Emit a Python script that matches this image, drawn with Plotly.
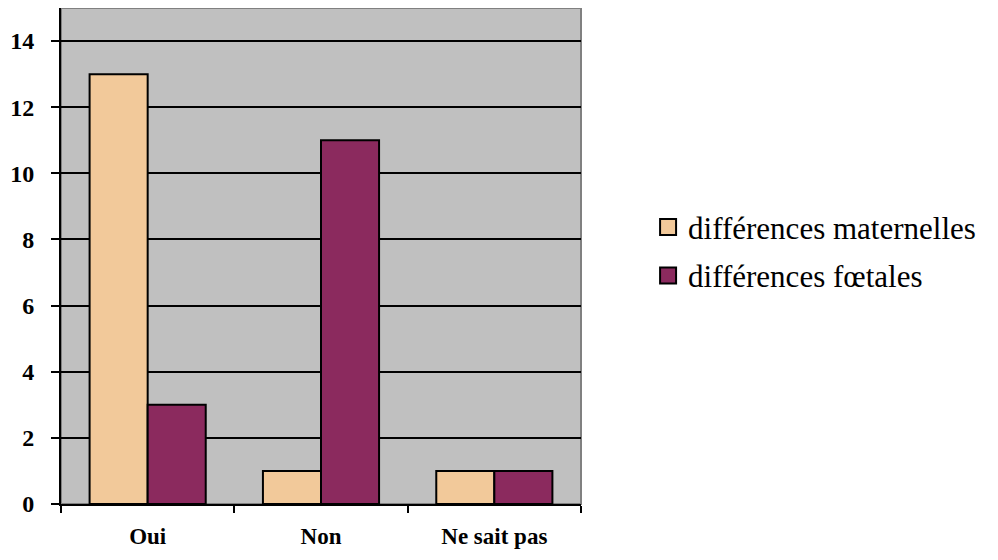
import plotly.graph_objects as go

categories = ["Oui", "Non", "Ne sait pas"]
maternelles = [13, 1, 1]
foetales = [3, 11, 1]
series_names = ["différences maternelles", "différences fœtales"]
colors = ["#F2C99A", "#8B2A5E"]
y_ticks = [0, 2, 4, 6, 8, 10, 12, 14]

SERIF = "Liberation Serif"

fig = go.Figure()
for vals, name, col in zip([maternelles, foetales], series_names, colors):
    fig.add_trace(go.Bar(x=categories, y=vals, name=name, showlegend=False,
                         marker=dict(color=col, line=dict(color="black", width=2))))
# legend entries with larger square swatches
for name, col in zip(series_names, colors):
    fig.add_trace(go.Scatter(x=[None], y=[None], mode="markers", name=name,
                             legendgroup=name,
                             marker=dict(symbol="square", size=16, color=col,
                                         line=dict(color="black", width=2))))

fig.update_layout(
    width=990, height=552,
    margin=dict(l=53, r=417, t=0, b=56),
    paper_bgcolor="white",
    plot_bgcolor="#C0C0C0",
    barmode="group",
    bargap=0.33,
    bargroupgap=0,
    font=dict(family=SERIF, color="black"),
    legend=dict(x=1.129, y=0.612, xanchor="left", yanchor="top",
                font=dict(size=31, family=SERIF, color="black"),
                itemsizing="trace", traceorder="grouped",
                tracegroupgap=5, bgcolor="rgba(0,0,0,0)"),
    xaxis=dict(type="category", tickson="boundaries", ticks="outside", ticklen=7,
               tickwidth=2, tickcolor="black", showgrid=False,
               showline=True, linecolor="black", linewidth=2,
               ticklabelstandoff=10,
               tickfont=dict(size=23, family=SERIF, weight="bold"),
               range=[-0.5, 2.5]),
    yaxis=dict(range=[0, 15], tickvals=y_ticks, ticks="outside", ticklen=8,
               tickwidth=2, tickcolor="black", showgrid=True, gridcolor="black",
               gridwidth=2, showline=True, linecolor="black", linewidth=2,
               zeroline=False, ticklabelstandoff=12,
               tickfont=dict(size=24, family=SERIF, weight="bold")),
    shapes=[dict(type="rect", xref="paper", yref="paper", x0=0, x1=1, y0=0, y1=1,
                 line=dict(color="#808080", width=2), layer="below")],
)

fig.write_html("out.html")
